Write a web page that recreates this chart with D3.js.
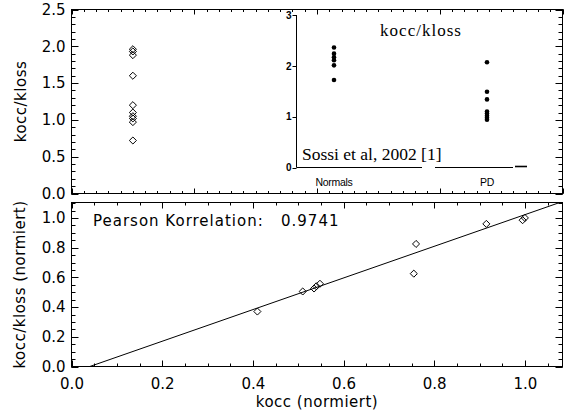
<!DOCTYPE html>
<html>
<head>
<meta charset="utf-8">
<script src="https://cdn.jsdelivr.net/npm/d3@7"></script>
<style>
  body { margin: 0; background: #fff; }
  text { fill: #000; }
</style>
</head>
<body>
<script>
// top panel: kocc/kloss, all subjects in one column
const ratio = [1.96, 1.93, 1.88, 1.60, 1.20, 1.10, 1.05, 1.02, 0.97, 0.72];
const ratioColumn = 0.5;
const topYTicks = [0, 0.5, 1, 1.5, 2, 2.5];

// inset taken from Sossi et al, 2002
const insetGroups = ["Normals", "PD"];
const insetNormals = [2.36, 2.24, 2.17, 2.11, 2.01, 1.72];
const insetPD = [2.07, 1.49, 1.34, 1.10, 1.06, 1.02, 0.98, 0.94];
const insetTicks = [0, 1, 2, 3];

// bottom panel: normalised values + fit
const koccNorm = [1.0, 0.995, 0.915, 0.76, 0.755, 0.548, 0.54, 0.535, 0.51, 0.41];
const ratioNorm = [1.0, 0.985, 0.96, 0.825, 0.625, 0.557, 0.54, 0.525, 0.505, 0.37];
const lowTicks = [0, 0.2, 0.4, 0.6, 0.8, 1.0];
const fitSlope = 1.065, fitIntercept = -0.043;
const pearson = "0.9741";

const W = 565, H = 419;
const L = 71.5, R = 562.5;
const T1 = 9.5, B1 = 193.5;   // top panel
const T2 = 202.5, B2 = 366.5; // bottom panel

const svg = d3.select("body").append("svg")
  .attr("width", W).attr("height", H)

// IDL style diamond
const diamond = {
  draw(ctx, size) {
    const r = Math.sqrt(size / 2);
    ctx.moveTo(0, -r); ctx.lineTo(r, 0); ctx.lineTo(0, r); ctx.lineTo(-r, 0); ctx.closePath();
  }
};
const sym = d3.symbol().type(diamond).size(25);

// tick positions between a and b
function steps(a, b, step) {
  return d3.range(Math.round(a / step), Math.floor(b / step + 1e-6) + 1).map(i => +(i * step).toFixed(4));
}

// inward tick marks as one path, positions from the scale
function tickPath(scale, values, side, pos, len) {
  const p = d3.path();
  values.forEach(v => {
    const t = Math.round(scale(v)) + 0.5;
    if (side == "bottom") { p.moveTo(t, pos); p.lineTo(t, pos - len); }
    if (side == "top") { p.moveTo(t, pos); p.lineTo(t, pos + len); }
    if (side == "left") { p.moveTo(pos, t); p.lineTo(pos + len, t); }
    if (side == "right") { p.moveTo(pos, t); p.lineTo(pos - len, t); }
  });
  return p.toString();
}

// frame with inward ticks on all four sides
function frame(x, y, o) {
  const g = svg.append("g");
  const [x0, x1] = x.domain(), [y0, y1] = y.domain();
  const xMinor = steps(x0, x1, o.xMinor), yMinor = steps(y0, y1, o.yMinor);
  const yb = y.range()[0], yt = y.range()[1], xl = x.range()[0], xr = x.range()[1];

  const d = [
    tickPath(x, xMinor, "bottom", yb, o.xMinorLen), tickPath(x, o.xMajor, "bottom", yb, o.xMajorLen),
    tickPath(x, xMinor, "top", yt, o.xMinorLen), tickPath(x, o.xMajor, "top", yt, o.xMajorLen),
    tickPath(y, yMinor, "left", xl, o.yMinorLen), tickPath(y, o.yMajor, "left", xl, o.yMajorLen),
    tickPath(y, yMinor, "right", xr, o.yMinorLen), tickPath(y, o.yMajor, "right", xr, o.yMajorLen)
  ].join("");
  g.append("path").attr("d", d).attr("fill", "none").attr("stroke", "#000").attr("stroke-width", 1);

  const fmt = d3.format(".1f");
  if (o.xLabels) {
    g.append("g").attr("transform", `translate(0,${yb})`)
      .call(d3.axisBottom(x).tickValues(o.xMajor).tickSize(0).tickPadding(12).tickFormat(fmt))
      .call(a => a.selectAll(".domain, .tick line").remove())
      .attr("font-family", "'DejaVu Sans', sans-serif").attr("font-size", 15)
  }
  g.append("g").attr("transform", `translate(${xl},0)`)
    .call(d3.axisLeft(y).tickValues(o.yMajor).tickSize(0).tickPadding(6).tickFormat(fmt))
    .call(a => a.selectAll(".domain, .tick line").remove())
    .attr("font-family", "'DejaVu Sans', sans-serif").attr("font-size", 15)

  g.append("rect")
    .attr("x", xl).attr("y", yt)
    .attr("width", xr - xl).attr("height", yb - yt)
    .attr("fill", "none").attr("stroke", "#000");
  return g;
}

// ---------- top panel ----------
const xTop = d3.scaleLinear().domain([0, 4]).range([L, R]);
const yTop = d3.scaleLinear().domain([0, 2.5]).range([B1, T1]);

frame(xTop, yTop, {
  xMajor: [0, 1, 2, 3, 4], xMinor: 0.1, xLabels: false, xMajorLen: 5, xMinorLen: 2.5,
  yMajor: topYTicks, yMinor: 0.1, yMajorLen: 7, yMinorLen: 4
});

svg.append("g").selectAll("path")
  .data(ratio)
  .enter()
  .append("path")
  .attr("d", sym)
  .attr("transform", d => `translate(${xTop(ratioColumn)},${yTop(d)})`)
  .attr("fill", "none").attr("stroke", "#000")

svg.append("text")
  .attr("transform", `translate(26,${(T1 + B1) / 2}) rotate(-90)`)
  .attr("text-anchor", "middle")
  .attr("font-family", "'DejaVu Sans', sans-serif").attr("font-size", 15)
  .attr("letter-spacing", 0.5)
  .text("kocc/kloss")

// ---------- inset ----------
const inset = svg.append("g");
const insetX = d3.scalePoint().domain(insetGroups).range([334, 487]);
const insetY = d3.scaleLinear().domain([0, 3]).range([167.5, 15]);

inset.append("path")
  .attr("d", tickPath(insetY, insetTicks, "right", 296.5, 4))
  .attr("fill", "none").attr("stroke", "#000")
inset.append("g").attr("transform", "translate(292.5,0)")
  .call(d3.axisLeft(insetY).tickValues(insetTicks).tickSize(0).tickPadding(1).tickFormat(d3.format("d")))
  .call(a => a.selectAll(".domain, .tick line").remove())
  .attr("font-family", "'Liberation Sans', sans-serif").attr("font-size", 10).attr("font-weight", "bold")
inset.append("line")
  .attr("x1", 296.5).attr("x2", 296.5)
  .attr("y1", insetY(3)).attr("y2", insetY(0))
  .attr("stroke", "#000")

// baseline of the inset, drawn in pieces like the scan
const baseY = insetY(0);
[[296.5, 422], [435, 513], [515, 527]].forEach(([a, b], i) => {
  inset.append("line")
    .attr("x1", a).attr("x2", b)
    .attr("y1", i == 2 ? baseY - 1 : baseY).attr("y2", i == 2 ? baseY - 1 : baseY)
    .attr("stroke", "#000").attr("stroke-width", i == 2 ? 1.6 : 1);
});

const insetPts = insetNormals.map(v => ({ g: "Normals", v }))
  .concat(insetPD.map(v => ({ g: "PD", v })));
inset.append("g").selectAll("circle")
  .data(insetPts)
  .enter()
  .append("circle")
  .attr("cx", d => insetX(d.g))
  .attr("cy", d => insetY(d.v))
  .attr("r", 2.3)
  .attr("fill", "#000")

inset.append("g").selectAll("text")
  .data(insetGroups)
  .enter()
  .append("text")
  .attr("x", d => insetX(d))
  .attr("y", 186)
  .attr("text-anchor", "middle")
  .attr("font-family", "'Liberation Sans', sans-serif").attr("font-size", 10.5)
  .attr("letter-spacing", -0.3)
  .text(d => d)

inset.append("text")
  .attr("x", 421).attr("y", 36)
  .attr("text-anchor", "middle")
  .attr("font-family", "'Liberation Serif', serif").attr("font-size", 17)
  .attr("letter-spacing", 1)
  .text("kocc/kloss")

inset.append("text")
  .attr("x", 302).attr("y", 160)
  .attr("font-family", "'Liberation Serif', serif").attr("font-size", 17.5)
  .text("Sossi et al, 2002 [1]")

// ---------- bottom panel ----------
const xLow = d3.scaleLinear().domain([0, 1.083]).range([L, R]);
const yLow = d3.scaleLinear().domain([0, 1.104]).range([B2, T2]);

frame(xLow, yLow, {
  xMajor: lowTicks, xMinor: 0.05, xLabels: true, xMajorLen: 6, xMinorLen: 3,
  yMajor: lowTicks, yMinor: 0.05, yMajorLen: 7, yMinorLen: 4
});

svg.append("clipPath").attr("id", "lowclip")
  .append("rect").attr("x", L).attr("y", T2).attr("width", R - L).attr("height", B2 - T2);

const fitLine = d3.line()
  .x(d => xLow(d))
  .y(d => yLow(fitSlope * d + fitIntercept));

svg.append("path")
  .attr("clip-path", "url(#lowclip)")
  .attr("d", fitLine(xLow.domain()))
  .attr("fill", "none").attr("stroke", "#000")

svg.append("g").selectAll("path")
  .data(koccNorm)
  .enter()
  .append("path")
  .attr("d", sym)
  .attr("transform", (d, i) => `translate(${xLow(d)},${yLow(ratioNorm[i])})`)
  .attr("fill", "none").attr("stroke", "#000")

const pt = svg.append("g")
  .attr("font-family", "'DejaVu Sans', sans-serif").attr("font-size", 15)
  .attr("letter-spacing", 1)
pt.append("text").attr("x", 93).attr("y", 226).text("Pearson Korrelation:")
pt.append("text").attr("x", 281).attr("y", 226).text(pearson)

svg.append("text")
  .attr("transform", `translate(25,${(T2 + B2) / 2}) rotate(-90)`)
  .attr("text-anchor", "middle")
  .attr("font-family", "'DejaVu Sans', sans-serif").attr("font-size", 15)
  .attr("letter-spacing", 0.5)
  .text("kocc/kloss (normiert)")

svg.append("text")
  .attr("x", (L + R) / 2).attr("y", 407)
  .attr("text-anchor", "middle")
  .attr("font-family", "'DejaVu Sans', sans-serif").attr("font-size", 15)
  .attr("letter-spacing", 0.5)
  .text("kocc (normiert)")
</script>
</body>
</html>
